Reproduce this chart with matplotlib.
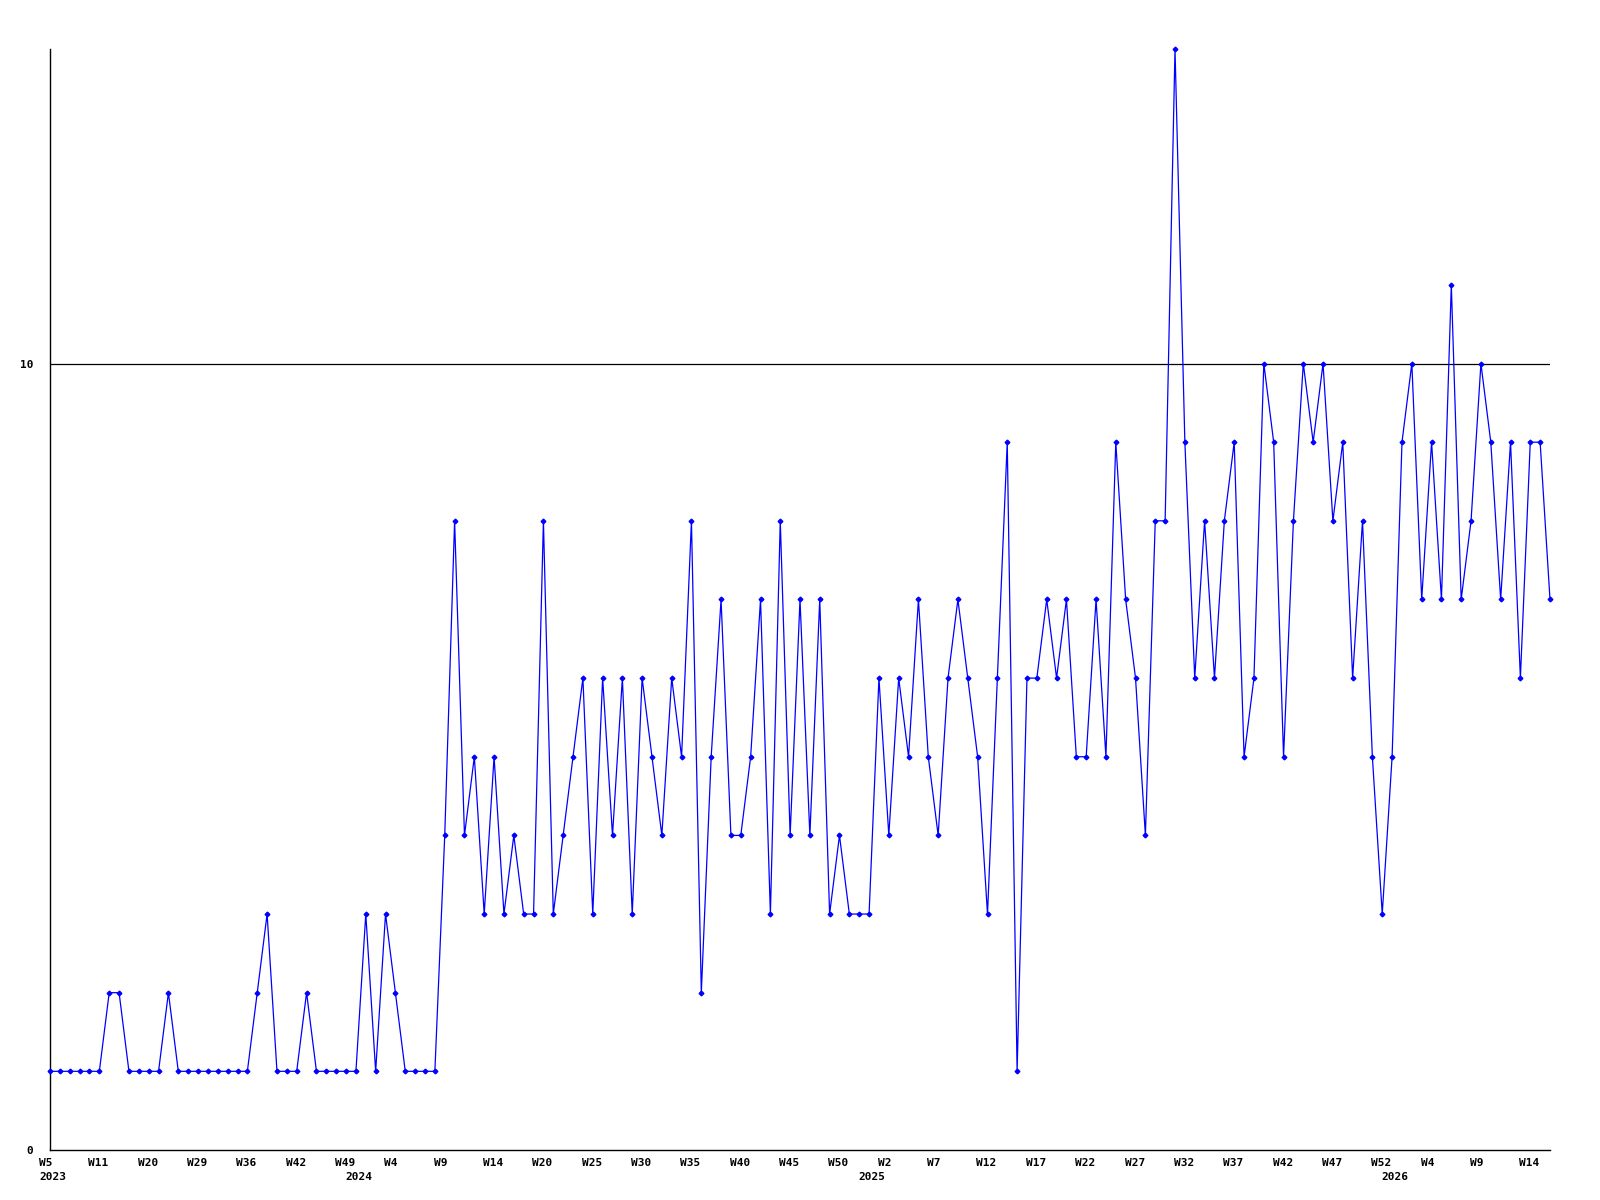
import numpy as np
import matplotlib.pyplot as plt
from matplotlib import transforms

# weekly counts, one per data point
counts = [
    1, 1, 1, 1, 1, 1, 2, 2, 1, 1,
    1, 1, 2, 1, 1, 1, 1, 1, 1, 1,
    1, 2, 3, 1, 1, 1, 2, 1, 1, 1,
    1, 1, 3, 1, 3, 2, 1, 1, 1, 1,
    4, 8, 4, 5, 3, 5, 3, 4, 3, 3,
    8, 3, 4, 5, 6, 3, 6, 4, 6, 3,
    6, 5, 4, 6, 5, 8, 2, 5, 7, 4,
    4, 5, 7, 3, 8, 4, 7, 4, 7, 3,
    4, 3, 3, 3, 6, 4, 6, 5, 7, 5,
    4, 6, 7, 6, 5, 3, 6, 9, 1, 6,
    6, 7, 6, 7, 5, 5, 7, 5, 9, 7,
    6, 4, 8, 8, 14, 9, 6, 8, 6, 8,
    9, 5, 6, 10, 9, 5, 8, 10, 9, 10,
    8, 9, 6, 8, 5, 3, 5, 9, 10, 7,
    9, 7, 11, 7, 8, 10, 9, 7, 9, 6,
    9, 9, 7,
]

# a label every 5th point
tick_step = 5
tick_labels = [
    'W5', 'W11', 'W20', 'W29', 'W36', 'W42', 'W49',
    'W4', 'W9', 'W14', 'W20', 'W25', 'W30', 'W35', 'W40', 'W45', 'W50',
    'W2', 'W7', 'W12', 'W17', 'W22', 'W27', 'W32', 'W37', 'W42', 'W47', 'W52',
    'W4', 'W9', 'W14',
]

# first data point of each year
years = ['2023', '2024', '2025', '2026']
year_start = [0, 31, 83, 136]

plt.rcParams['font.family'] = 'DejaVu Sans Mono'
plt.rcParams['font.weight'] = 'bold'
plt.rcParams['font.size'] = 8

fig = plt.figure(figsize=(16, 12), dpi=100)
ax = fig.add_axes([0.03125, 0.0417, 0.9375, 0.9175])

x = np.arange(len(counts))
ax.plot(x, counts, color='#0000ff', lw=0.9, marker='D', ms=2.4,
        clip_on=False, zorder=3)
ax.axhline(10, color='black', lw=0.9, zorder=2)

ax.set_xlim(0, len(counts) - 1)
ax.set_ylim(0, 14)
ax.set_yticks([0, 10])
ax.set_xticks(x[::tick_step])
ax.set_xticklabels(tick_labels, ha='left')

for side in ['top', 'right']:
    ax.spines[side].set_visible(False)
for side in ['left', 'bottom']:
    ax.spines[side].set_linewidth(1.0)
ax.tick_params(axis='x', length=0, pad=5.5)
ax.tick_params(axis='y', length=0, pad=12)

# labels start a little left of their point
shift = transforms.ScaledTranslation(-11 / 100, 0, fig.dpi_scale_trans)
for lbl in ax.get_xticklabels():
    lbl.set_transform(lbl.get_transform() + shift)

year_trans = (transforms.blended_transform_factory(ax.transData, ax.transAxes)
              + transforms.ScaledTranslation(-11 / 100, -22 / 100, fig.dpi_scale_trans))
for yr, idx in zip(years, year_start):
    ax.text(idx, 0, yr, transform=year_trans, ha='left', va='top')

fig.savefig('out.png', dpi=100)
